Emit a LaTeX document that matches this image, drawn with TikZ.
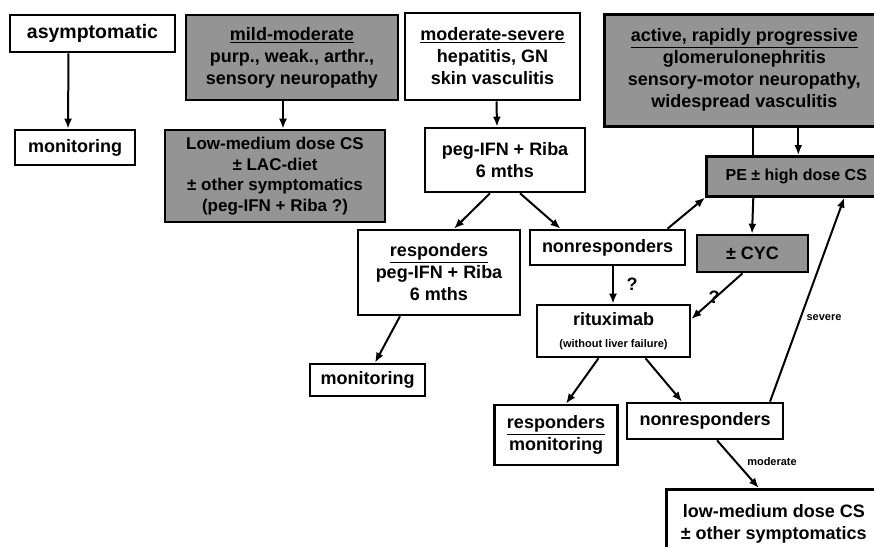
\documentclass[tikz,border=0pt]{standalone}
\usepackage{fontspec}
\setmainfont{Liberation Sans}
\usetikzlibrary{arrows.meta}
\begin{document}
\begin{tikzpicture}[x=1pt,y=-1pt,
 box/.style={draw, line width=2.6pt, fill=white, align=center, inner sep=2pt, font=\bfseries\fontsize{18}{22}\selectfont},
 gbox/.style={box, fill=black!42},
 arr/.style={-{Latex[length=10pt,width=8pt]}, line width=2pt},
 ln/.style={line width=2pt},
 lab/.style={font=\bfseries\fontsize{11}{13}\selectfont, inner sep=1pt},
 q/.style={font=\bfseries\fontsize{18}{20}\selectfont, inner sep=0pt}]
\clip (0,0) rectangle (874,546);
\fill[white] (0,0) rectangle (874,546);
% nodes
\node[box, minimum width=165pt, minimum height=37pt, font=\bfseries\fontsize{19.5}{22}\selectfont] (asym) at (92.5,33.5) {asymptomatic};
\node[box, minimum width=120pt, minimum height=35pt] (mon1) at (75,147.5) {monitoring};
\node[gbox, minimum width=212pt, minimum height=85pt] (mild) at (292,57.5) {\underline{mild-moderate}\\purp., weak., arthr.,\\sensory neuropathy};
\node[gbox, minimum width=220pt, minimum height=92pt, font=\bfseries\fontsize{17}{20.5}\selectfont] (lm1) at (275,176) {Low-medium dose CS\\± LAC-diet\\± other symptomatics\\(peg-IFN + Riba ?)};
\node[box, minimum width=175pt, minimum height=87pt] (ms) at (492.5,56.5) {\underline{moderate-severe}\\hepatitis, GN\\skin vasculitis};
\node[box, minimum width=160pt, minimum height=64pt] (peg) at (505,160) {peg-IFN + Riba\\6 mths};
\node[gbox, minimum width=280pt, minimum height=112pt, anchor=north west] (act) at (603,13) {\underline{active, rapidly progressive}\\glomerulonephritis\\sensory-motor neuropathy,\\widespread vasculitis};
\node[gbox, minimum width=180pt, minimum height=40pt, anchor=north west, font=\bfseries\fontsize{16}{20}\selectfont] (pe) at (705,155) {PE ± high dose CS};
\node[gbox, minimum width=111pt, minimum height=37pt] (cyc) at (752.5,253.5) {± CYC};
\node[box, minimum width=162pt, minimum height=85pt] (resp) at (439,272.5) {\underline{responders}\\peg-IFN + Riba\\6 mths};
\node[box, minimum width=155pt, minimum height=35pt] (nr1) at (607.5,247.5) {nonresponders};
\node[box, minimum width=153pt, minimum height=52pt] (rit) at (613.5,331) {rituximab\\{\fontsize{11}{13}\selectfont (without liver failure)}};
\node[box, minimum width=115pt, minimum height=32pt] (mon2) at (367.5,380) {monitoring};
\node[box, minimum width=123pt, minimum height=60pt] (resp2) at (556,435) {\underline{responders}\\monitoring};
\node[box, minimum width=156pt, minimum height=36pt] (nr2) at (705,421) {nonresponders};
\node[box, minimum width=215pt, minimum height=70pt, anchor=north west] (lm2) at (665,488) {low-medium dose CS\\± other symptomatics};
% connectors
\draw[arr] ([xshift=-24pt]asym.south) -- ([xshift=-7pt]mon1.north);
\draw[arr] ([xshift=-9pt]mild.south) -- ([xshift=8pt]lm1.north);
\draw[arr] ([xshift=4pt]ms.south) -- ([xshift=-8pt]peg.north);
\draw[arr] ([xshift=-15pt]peg.south) -- ([xshift=15pt]resp.north);
\draw[arr] ([xshift=15pt]peg.south) -- ([xshift=-47pt]nr1.north);
\draw[arr] ([xshift=60pt]nr1.north) -- (pe.south west);
\draw[ln] ([xshift=9pt]act.south) -- ([xshift=9pt]act.south |- pe.north);
\draw[arr] ([xshift=54pt]act.south) -- ([xshift=54pt]act.south |- pe.north);
\draw[arr] ([xshift=-43pt]pe.south) -- ([xshift=-0.5pt]cyc.north);
\draw[arr] ([xshift=-10pt]cyc.south) -- ([yshift=12pt]rit.east);
\node[q] (q2) at (714,297) {?};
\draw[arr] ([xshift=5.5pt]nr1.south) -- ([xshift=-0.5pt]rit.north);
\node[q] (q1) at (632,284) {?};
\draw[arr] ([xshift=-15pt]rit.south) -- ([xshift=10pt]resp2.north);
\draw[arr] ([xshift=32pt]rit.south) -- ([xshift=-23pt]nr2.north);
\draw[arr] ([xshift=65pt]nr2.north) -- ([xshift=48pt]pe.south);
\node[lab] (sev) at (824,318) {severe};
\draw[arr] ([xshift=12pt]nr2.south) -- ([xshift=-15pt]lm2.north);
\node[lab] (mod) at (772,462) {moderate};
\draw[arr] ([xshift=-39pt]resp.south) -- ([xshift=7.5pt]mon2.north);
\end{tikzpicture}
\end{document}
